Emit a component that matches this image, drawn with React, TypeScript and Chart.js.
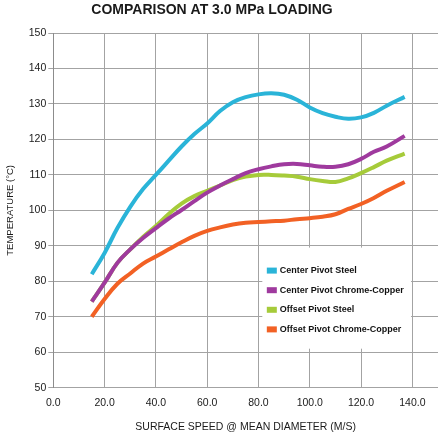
import { useEffect, useRef } from "react";
import { Chart, registerables } from "chart.js";

Chart.register(...registerables);

const speeds = [15, 20, 25, 30, 35, 40, 45, 50, 55, 60, 65, 70, 75, 80, 85, 90, 95, 100, 105, 110, 115, 120, 125, 130, 137];

const centerSteel = [82, 88, 95, 101, 106, 110, 114, 118, 121.5, 124.5, 128, 130.5, 131.9, 132.7, 133, 132.6, 131.2, 129, 127.4, 126.4, 125.8, 126.2, 127.5, 129.5, 132];
const centerChromeCopper = [74.3, 79.6, 85.2, 89, 92.2, 95, 97.7, 100.1, 102.6, 105, 107, 108.8, 110.5, 111.6, 112.4, 113, 113.1, 112.7, 112.3, 112.3, 113, 114.5, 116.5, 118, 121];
const offsetSteel = [74.3, 79.6, 85.2, 89, 92.5, 95.6, 99, 101.9, 104, 105.5, 107, 108.5, 109.5, 110, 110, 109.8, 109.5, 108.8, 108.3, 108, 109, 110.5, 112.2, 114, 116];
const offsetChromeCopper = [70, 75, 79.3, 82.2, 85, 87, 89, 91, 92.8, 94.2, 95.2, 96, 96.5, 96.7, 96.9, 97.1, 97.5, 97.8, 98.2, 98.9, 100.4, 101.8, 103.5, 105.5, 108];

const seriesLabels = ["Center Pivot Steel", "Center Pivot Chrome-Copper", "Offset Pivot Steel", "Offset Pivot Chrome-Copper"];
const seriesColors = ["#2ab4d8", "#9f3a9e", "#a6cb3a", "#f26124"];

const xTickValues = [0, 20, 40, 60, 80, 100, 120, 140];

const FONT = "'Liberation Sans', Arial, Helvetica, sans-serif";

// title drawn left of canvas centre, like the original
const titlePlugin = {
  id: "topTitle",
  afterDraw(chart: Chart) {
    const { ctx } = chart;
    ctx.save();
    ctx.font = `bold 14px ${FONT}`;
    ctx.fillStyle = "#1a1a1a";
    ctx.textAlign = "center";
    ctx.textBaseline = "middle";
    ctx.fillText("COMPARISON AT 3.0 MPa LOADING", 212, 10.5);
    ctx.restore();
  },
};

// legend box sitting inside the plot, over the grid
const boxLegend = {
  id: "boxLegend",
  beforeDatasetsDraw(chart: Chart) {
    const { ctx } = chart;
    const x = chart.scales.x;
    const y = chart.scales.y;
    const left = x.getPixelForValue(81.5);
    const right = x.getPixelForValue(139.5);
    const top = y.getPixelForValue(89.5);
    const bottom = y.getPixelForValue(61);
    ctx.save();
    ctx.fillStyle = "#ffffff";
    ctx.fillRect(left, top, right - left, bottom - top);
    ctx.font = `bold 9px ${FONT}`;
    ctx.textBaseline = "middle";
    chart.data.datasets.forEach((ds, i) => {
      const cy = top + 23 + i * 19.6;
      ctx.fillStyle = ds.borderColor as string;
      ctx.fillRect(left + 4.5, cy - 3, 10, 6);
      ctx.fillStyle = "#111111";
      ctx.fillText(ds.label || "", left + 17.5, cy);
    });
    ctx.restore();
  },
};

export default function App() {
  const canvasRef = useRef<HTMLCanvasElement>(null);
  const chartRef = useRef<Chart | null>(null);

  useEffect(() => {
    if (!canvasRef.current) return;
    if (chartRef.current) chartRef.current.destroy();

    const series = [centerSteel, centerChromeCopper, offsetSteel, offsetChromeCopper];

    chartRef.current = new Chart(canvasRef.current, {
      type: "line",
      data: {
        datasets: series.map((vals, i) => ({
          label: seriesLabels[i],
          data: speeds.map((s, j) => ({ x: s, y: vals[j] })),
          borderColor: seriesColors[i],
          backgroundColor: seriesColors[i],
          borderWidth: 4,
          pointRadius: 0,
          tension: 0.4,
          fill: false,
        })),
      },
      options: {
        animation: false,
        responsive: true,
        maintainAspectRatio: false,
        layout: { padding: { top: 33, right: 2, left: 0, bottom: 0 } },
        plugins: {
          legend: { display: false },
          tooltip: { enabled: false },
        },
        scales: {
          x: {
            type: "linear",
            min: 0,
            max: 150,
            afterBuildTicks: (scale) => {
              scale.ticks = xTickValues.map((value) => ({ value }));
            },
            afterFit: (scale) => {
              scale.height = 48.3;
            },
            ticks: {
              padding: 9,
              autoSkip: false,
              maxRotation: 0,
              color: "#1a1a1a",
              font: { family: FONT, size: 10.5 },
              callback: (v) => Number(v).toFixed(1),
            },
            grid: { color: "#a3a3a3", lineWidth: 1, drawTicks: false },
            border: { display: false },
            title: {
              display: true,
              text: "SURFACE SPEED @ MEAN DIAMETER (M/S)",
              color: "#1a1a1a",
              font: { family: FONT, size: 10.5 },
              padding: { top: 0, bottom: 3 },
            },
          },
          y: {
            min: 50,
            max: 150,
            afterFit: (scale) => {
              scale.width = 53.3;
            },
            ticks: {
              stepSize: 10,
              padding: 2,
              color: "#1a1a1a",
              font: { family: FONT, size: 10.5 },
            },
            grid: { color: "#a3a3a3", lineWidth: 1, tickLength: 5 },
            border: { display: true, color: "#8c8c8c", width: 1 },
            title: {
              display: true,
              text: "TEMPERATURE (°C)",
              color: "#1a1a1a",
              font: { family: FONT, size: 9.5 },
              padding: { top: 5, bottom: 0 },
            },
          },
        },
      },
      plugins: [titlePlugin, boxLegend],
    });

    return () => {
      if (chartRef.current) {
        chartRef.current.destroy();
        chartRef.current = null;
      }
    };
  }, []);

  return (
    <div style={{ position: "fixed", left: 0, top: 0, width: 440, height: 436, background: "#fff" }}>
      <canvas ref={canvasRef} />
    </div>
  );
}
